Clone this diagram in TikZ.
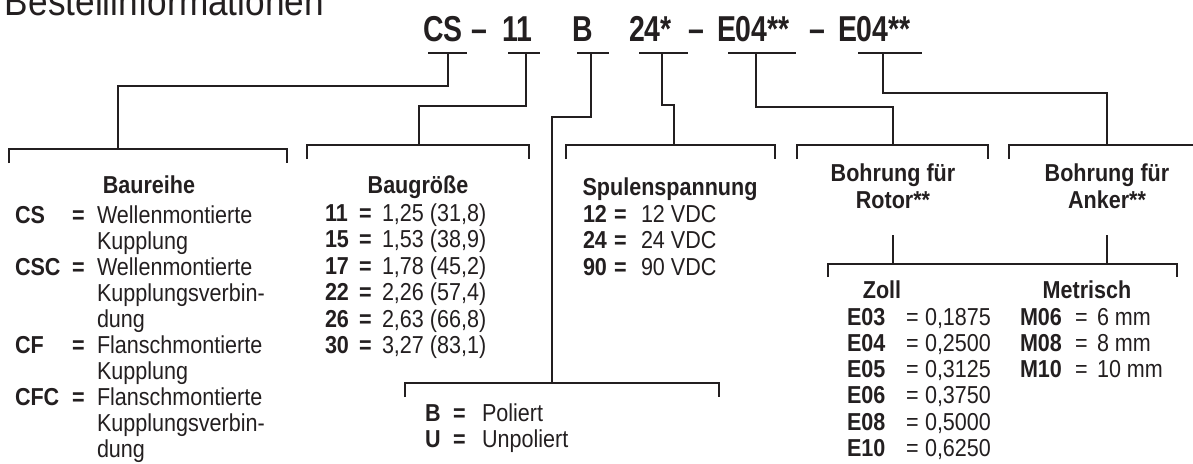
\documentclass[tikz,border=0pt]{standalone}
\usepackage{fontspec}
\setmainfont{Liberation Sans}[FakeStretch=0.88]
\newfontfamily\hdfont{Liberation Sans}[FakeStretch=0.79]
\definecolor{ink}{HTML}{231F20}
\newcommand\brkt[4]{\draw[ln] (#1,#4) |- (#2,#3) -- (#2,#4);}
\begin{document}
\begin{tikzpicture}[x=1pt,y=-1pt,
 ln/.style={draw=ink,line width=2.9pt,line join=miter},
 tx/.style={inner sep=0,outer sep=0,anchor=base west,text=ink,font=\fontsize{24.5}{26}\selectfont},
 bx/.style={tx,font=\fontsize{24.5}{26}\selectfont\bfseries},
 hc/.style={bx,anchor=base},
 hd/.style={inner sep=0,outer sep=0,anchor=base west,text=ink,font=\hdfont\bfseries\fontsize{36}{36}\selectfont},
]
\useasboundingbox (0,0) rectangle (1193,463);

% title
\node[tx,font=\fontsize{40}{40}\selectfont] (title) at (5,15) {Bestellinformationen};

% header code
\node[hd] (hCS) at (423,41) {CS};
\node[hd] (hd1) at (471,41) {–};
\node[hd] (h11) at (502,41) {11};
\node[hd] (hB)  at (572,41) {B};
\node[hd] (h24) at (629,41) {24*};
\node[hd] (hd2) at (688,41) {–};
\node[hd] (hE1) at (717,41) {E04**};
\node[hd] (hd3) at (809,41) {–};
\node[hd] (hE2) at (838,41) {E04**};

% underlines
\draw[ln] (428,53) -- (467,53);
\draw[ln] (508,53) -- (540,53);
\draw[ln] (577,53) -- (609,53);
\draw[ln] (639,53) -- (688,53);
\draw[ln] (728,53) -- (796,53);
\draw[ln] (858,53) -- (922,53);

% bracket apexes
\coordinate (a1) at (118,149);
\coordinate (a2) at (419,145);
\coordinate (a3) at (552,383);
\coordinate (a4) at (674,145);
\coordinate (a5) at (893,145);
\coordinate (a6) at (1107,145);

% connectors
\draw[ln] (448,53) -- ++(0,33) -| (a1);
\draw[ln] (526,53) -- ++(0,53) -| (a2);
\draw[ln] (591,53) -- ++(0,64) -| (a3);
\draw[ln] (662,53) -- ++(0,52) -| (a4);
\draw[ln] (756,53) -- ++(0,54) -| (a5);
\draw[ln] (883,53) -- ++(0,40) -| (a6);

% brackets
\brkt{9}{287}{149}{163}
\brkt{307}{529}{145}{159}
\brkt{566}{775}{145}{159}
\brkt{797}{988}{145}{159}
\draw[ln] (1009,159) |- (1194,145);
\brkt{828}{1177}{264}{277}
\brkt{405}{719}{383}{397}
\draw[ln] (893,235) -- (893,264);
\draw[ln] (1107,235) -- (1107,264);

% Block 1: Baureihe
\node[hc] (t1) at (149,193) {Baureihe};
\node[bx] (k11) at (15,223) {CS};
\node[bx] (e11) at (72,223) {=};
\node[tx] (v11) at (97,223) {Wellenmontierte};
\node[tx] (v12) at (97,249) {Kupplung};
\node[bx] (k12) at (15,275) {CSC};
\node[bx] (e12) at (72,275) {=};
\node[tx] (v13) at (97,275) {Wellenmontierte};
\node[tx] (v14) at (97,301) {Kupplungsverbin-};
\node[tx] (v15) at (97,327) {dung};
\node[bx] (k13) at (15,353) {CF};
\node[bx] (e13) at (72,353) {=};
\node[tx] (v16) at (97,353) {Flanschmontierte};
\node[tx] (v17) at (97,379) {Kupplung};
\node[bx] (k14) at (15,405) {CFC};
\node[bx] (e14) at (72,405) {=};
\node[tx] (v18) at (97,405) {Flanschmontierte};
\node[tx] (v19) at (97,431) {Kupplungsverbin-};
\node[tx] (v1a) at (97,457) {dung};

% Block 2: Baugroesse
\node[hc] (t2) at (418,193) {Baugröße};
\foreach \k/\v [count=\i] in {11/{1,25 (31,8)},15/{1,53 (38,9)},17/{1,78 (45,2)},22/{2,26 (57,4)},26/{2,63 (66,8)},30/{3,27 (83,1)}}{
  \node[bx] (k2\i) at (325,221+26.5*\i-26.5) {\k};
  \node[bx] (e2\i) at (359,221+26.5*\i-26.5) {=};
  \node[tx] (v2\i) at (382,221+26.5*\i-26.5) {\v};
}

% Block 3: Spulenspannung
\node[hc] (t3) at (670,195) {Spulenspannung};
\foreach \k/\v [count=\i] in {12/12 VDC,24/24 VDC,90/90 VDC}{
  \node[bx] (k3\i) at (583,222+26.5*\i-26.5) {\k};
  \node[bx] (e3\i) at (614,222+26.5*\i-26.5) {=};
  \node[tx] (v3\i) at (641,222+26.5*\i-26.5) {\v};
}

% Block 4/5 headings
\node[hc] (t4a) at (893,181) {Bohrung für};
\node[hc] (t4b) at (893,208) {Rotor**};
\node[hc] (t5a) at (1107,181) {Bohrung für};
\node[hc] (t5b) at (1107,208) {Anker**};

% Block 6
\node[hc] (t6a) at (882,298) {Zoll};
\node[hc] (t6b) at (1087,298) {Metrisch};
\foreach \k/\v [count=\i] in {E03/{0,1875},E04/{0,2500},E05/{0,3125},E06/{0,3750},E08/{0,5000},E10/{0,6250}}{
  \node[bx] (k6\i) at (847,325+26.3*\i-26.3) {\k};
  \node[tx] (e6\i) at (906,325+26.3*\i-26.3) {=};
  \node[tx] (v6\i) at (925,325+26.3*\i-26.3) {\v};
}
\foreach \k/\v [count=\i] in {M06/6 mm,M08/8 mm,M10/10 mm}{
  \node[bx] (k7\i) at (1020,325+26.3*\i-26.3) {\k};
  \node[tx] (e7\i) at (1075,325+26.3*\i-26.3) {=};
  \node[tx] (v7\i) at (1097,325+26.3*\i-26.3) {\v};
}

% Block B
\node[bx] (kB1) at (425,421) {B};
\node[bx] (eB1) at (453,421) {=};
\node[tx] (vB1) at (482,421) {Poliert};
\node[bx] (kB2) at (425,447) {U};
\node[bx] (eB2) at (453,447) {=};
\node[tx] (vB2) at (482,447) {Unpoliert};
\end{tikzpicture}
\end{document}
